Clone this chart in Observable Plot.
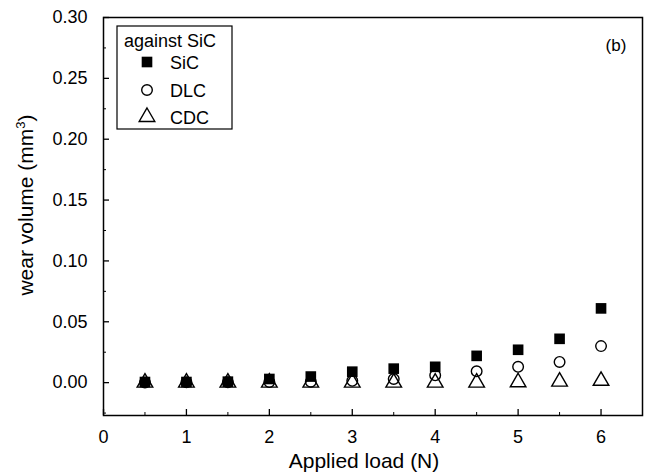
<!DOCTYPE html>
<html>
<head>
<meta charset="utf-8">
<script src="https://cdn.jsdelivr.net/npm/d3@7"></script>
<script src="https://cdn.jsdelivr.net/npm/@observablehq/plot@0.6"></script>
<style>
  body { margin: 0; background: #fff; }
  #chart svg { font-family: "Liberation Sans", Arial, sans-serif; }
</style>
</head>
<body>
<div id="chart"></div>
<script>
const loads = [0.5, 1, 1.5, 2, 2.5, 3, 3.5, 4, 4.5, 5, 5.5, 6];
const sicValues = [0.0005, 0.0005, 0.0008, 0.003, 0.005, 0.009, 0.0115, 0.013, 0.022, 0.027, 0.036, 0.061];
const dlcValues = [0.0002, 0.0003, 0.0003, 0.0005, 0.0008, 0.0015, 0.003, 0.006, 0.0093, 0.013, 0.017, 0.030];
const cdcValues = [0.0, 0.0, 0.0, 0.0, 0.0, 0.0, 0.0, 0.0, 0.0, 0.0003, 0.0008, 0.0015];
const seriesNames = ["SiC", "DLC", "CDC"];
const legendTitle = "against SiC";
const panelLabel = "(b)";
const xMajor = [0, 1, 2, 3, 4, 5, 6];
const xMinor = [0.5, 1.5, 2.5, 3.5, 4.5, 5.5];
const yMajor = [0, 0.05, 0.10, 0.15, 0.20, 0.25, 0.30];
const yMinor = [-0.025, 0.025, 0.075, 0.125, 0.175, 0.225, 0.275];

const sic = loads.map((x, i) => ({x, y: sicValues[i]}));
const dlc = loads.map((x, i) => ({x, y: dlcValues[i]}));
const cdc = loads.map((x, i) => ({x, y: cdcValues[i]}));

const W = 656, H = 472;
const mL = 103, mR = 14, mT = 17, mB = 57;
const rSq = 6, rCi = 5.3, rTr = 5.8;

const plot = Plot.plot({
  width: W, height: H,
  marginLeft: mL, marginRight: mR, marginTop: mT, marginBottom: mB,
  style: {fontFamily: "Liberation Sans, Arial, sans-serif", fontSize: "17px", color: "#000", background: "#fff"},
  x: {domain: [0, 6.5]},
  y: {domain: [-0.027, 0.30]},
  marks: [
    // tick labels
    Plot.axisX({ticks: xMajor, tickSize: 0, tickPadding: 15, tickFormat: d => d3.format("d")(d), fontSize: 18, label: null}),
    Plot.axisY({ticks: yMajor, tickSize: 0, tickPadding: 16, tickFormat: d3.format(".2f"), fontSize: 18, label: null}),
    // inward ticks
    Plot.axisX({ticks: xMajor, tickSize: 6, dy: -6, tickFormat: () => "", label: null, strokeWidth: 1.3}),
    Plot.axisX({ticks: xMinor, tickSize: 3, dy: -3, tickFormat: () => "", label: null}),
    Plot.axisY({ticks: yMajor, tickSize: 6, dx: 6, tickFormat: () => "", label: null, strokeWidth: 1.3}),
    Plot.axisY({ticks: yMinor, tickSize: 3, dx: 3, tickFormat: () => "", label: null}),
    Plot.frame({stroke: "#000", strokeWidth: 1.5}),
    Plot.dot(cdc, {x: "x", y: "y", symbol: "triangle", r: rTr, stroke: "#000", strokeWidth: 1.4, fill: "#fff"}),
    Plot.dot(dlc, {x: "x", y: "y", symbol: "circle", r: rCi, stroke: "#000", strokeWidth: 1.4, fill: "none"}),
    Plot.dot(sic, {x: "x", y: "y", symbol: "square", r: rSq, fill: "#000", stroke: "none"})
  ]
});

document.getElementById("chart").appendChild(plot);

const svg = d3.select(plot);

// axis labels
svg.append("text")
  .attr("x", 364).attr("y", 468)
  .attr("text-anchor", "middle")
  .attr("font-size", 21).attr("fill", "#000")
  .text("Applied load (N)");

const yl = svg.append("text")
  .attr("transform", `translate(33,205) rotate(-90)`)
  .attr("text-anchor", "middle")
  .attr("font-size", 21).attr("fill", "#000");
yl.append("tspan").text("wear volume (mm");
yl.append("tspan").attr("dy", -8).attr("font-size", 13).text("3");
yl.append("tspan").attr("dy", 8).text(")");

// panel label
svg.append("text")
  .attr("x", 616).attr("y", 51)
  .attr("text-anchor", "middle")
  .attr("font-size", 17).attr("fill", "#000")
  .text(panelLabel);

// legend
const lg = svg.append("g").attr("text-anchor", "start");
lg.append("rect").attr("x", 117).attr("y", 26).attr("width", 115).attr("height", 103)
  .attr("fill", "#fff").attr("stroke", "#000").attr("stroke-width", 1.2);
lg.append("text").attr("x", 124).attr("y", 47).attr("text-anchor", "start")
  .attr("font-size", 18).attr("fill", "#000").text(legendTitle);
const rowsY = [62, 90, 117];
const symbols = [d3.symbolSquare, d3.symbolCircle, d3.symbolTriangle];
const sizes = [Math.PI * rSq * rSq, Math.PI * rCi * rCi, Math.PI * rTr * rTr];
seriesNames.forEach((name, i) => {
  const p = lg.append("path")
    .attr("d", d3.symbol(symbols[i], sizes[i])())
    .attr("transform", `translate(147,${rowsY[i]})`);
  if (i === 0) p.attr("fill", "#000");
  else p.attr("fill", "none").attr("stroke", "#000").attr("stroke-width", 1.4);
  lg.append("text").attr("x", 170).attr("y", rowsY[i] + 6.5).attr("text-anchor", "start")
    .attr("font-size", 18).attr("fill", "#000").text(name);
});
</script>
</body>
</html>
